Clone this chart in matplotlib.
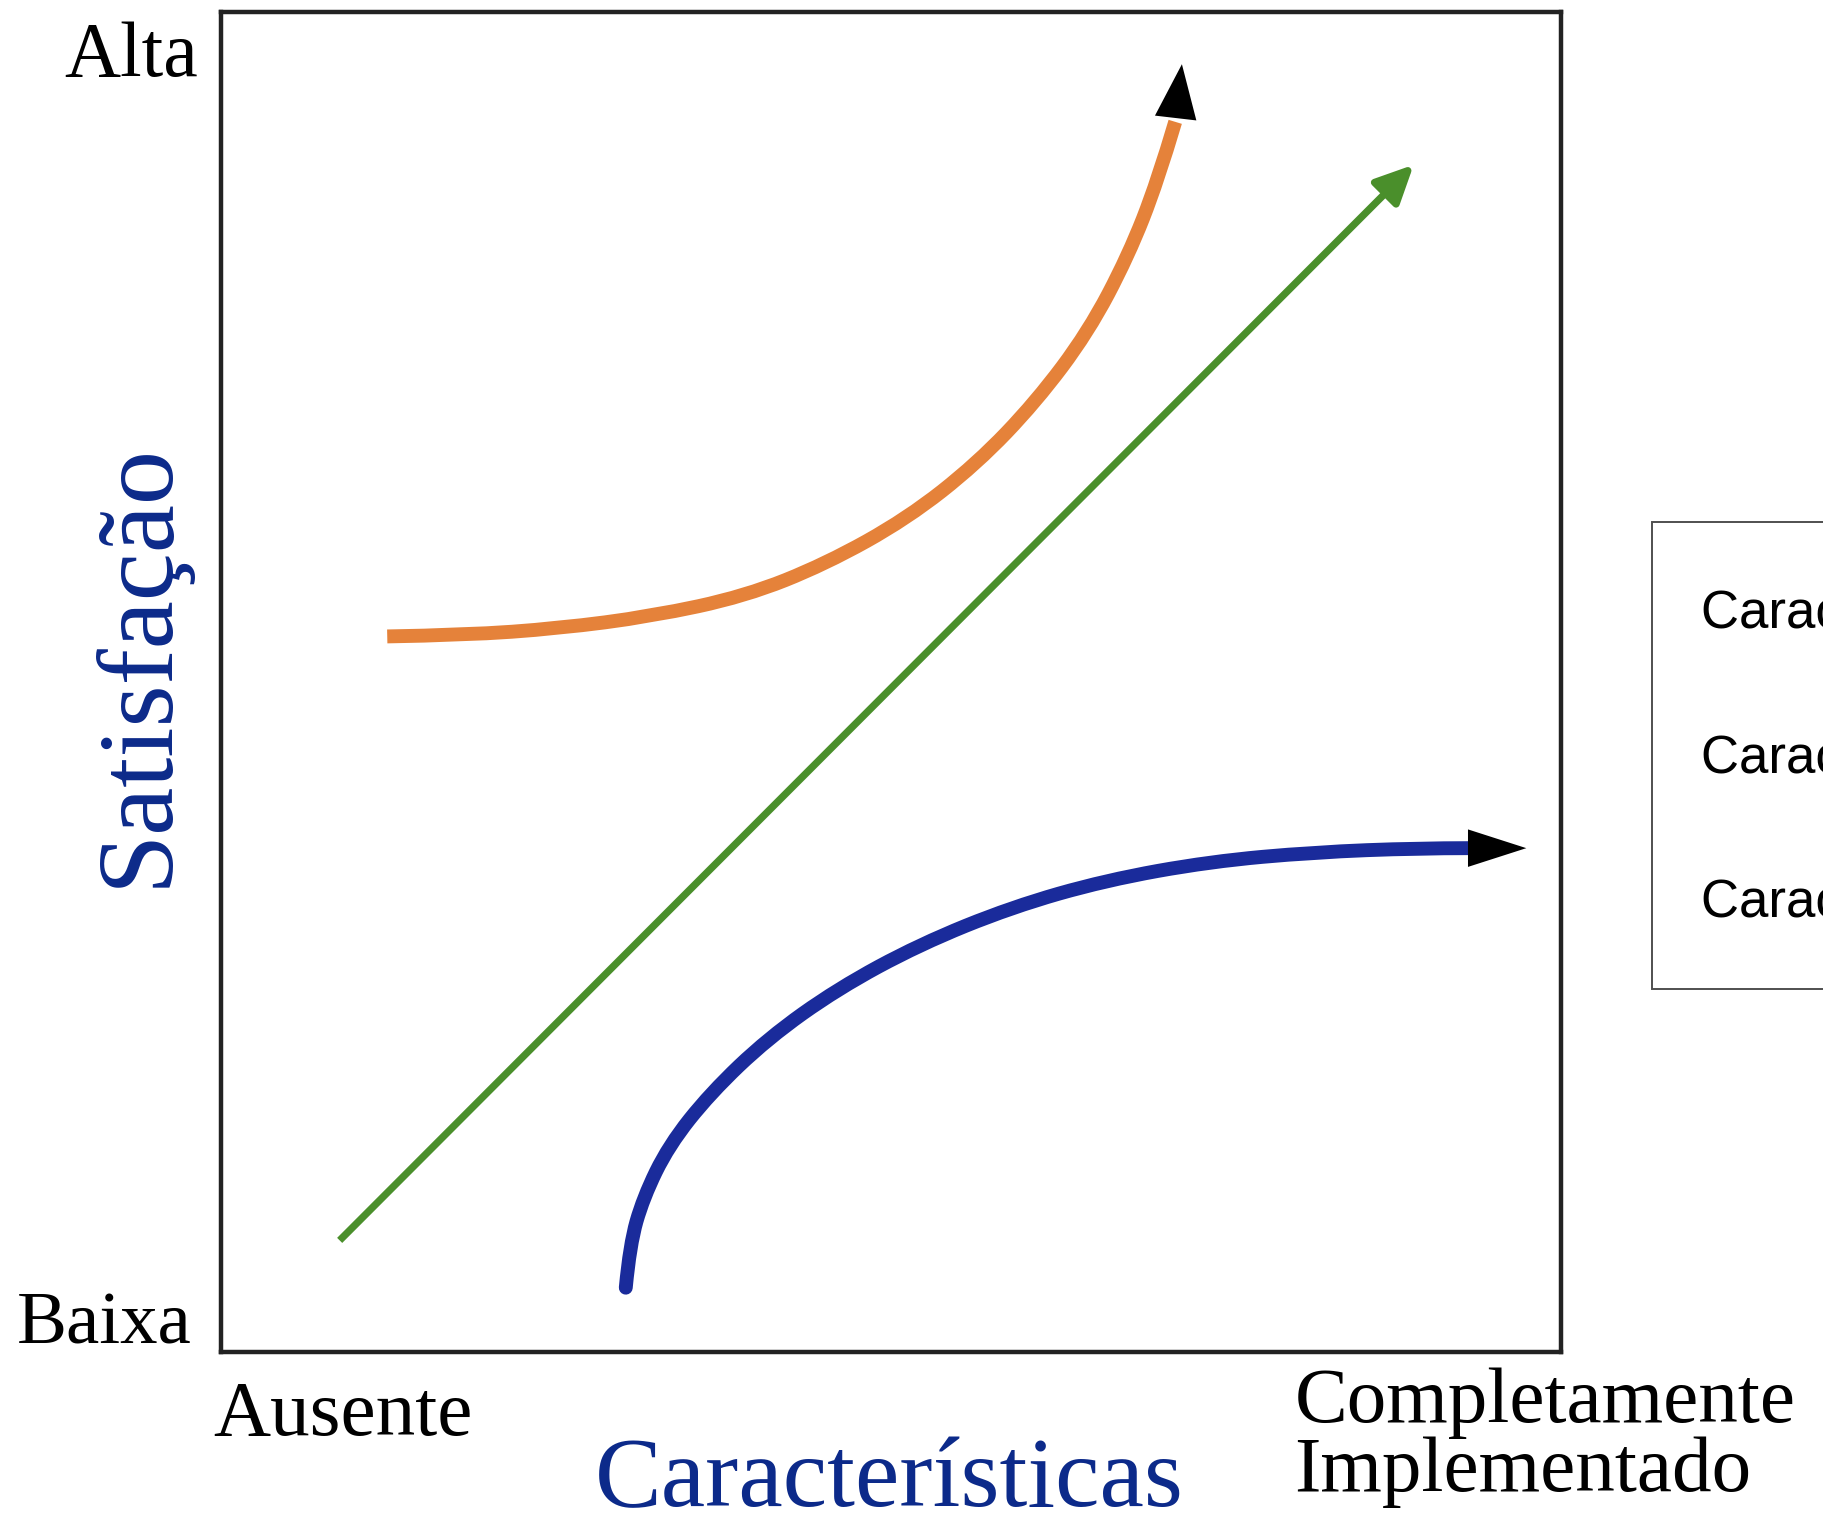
import matplotlib
matplotlib.use("Agg")
import matplotlib.pyplot as plt
from matplotlib.path import Path
from matplotlib.patches import PathPatch

# pontos (eixos normalizados 0..1)
exc_x = [0.124, 0.182, 0.252, 0.321, 0.391, 0.451, 0.512, 0.564, 0.608, 0.647, 0.677, 0.699, 0.712, 0.717]
exc_y = [0.534, 0.535, 0.540, 0.549, 0.564, 0.588, 0.622, 0.663, 0.709, 0.761, 0.818, 0.874, 0.918, 0.961]

des_x = [0.0885, 0.890]
des_y = [0.0833, 0.886]

bas_x = [0.302, 0.305, 0.315, 0.334, 0.365, 0.408, 0.460, 0.521, 0.590, 0.660, 0.738, 0.816, 0.894, 0.931, 0.974]
bas_y = [0.048, 0.080, 0.115, 0.154, 0.193, 0.234, 0.271, 0.304, 0.332, 0.352, 0.366, 0.373, 0.376, 0.376, 0.376]

legend_labels = ['Características de Excitação',
                 'Características de Desempenho',
                 'Características Básicas']

orange = '#e5823a'
green = '#4a8f2b'
blue = '#1a2b9b'
txt_blue = '#0c2a8a'
serif = 'Liberation Serif'


def smooth_curve(ax, xs, ys, **kw):
    """Desenha a curva suave (bezier quadrática) passando perto dos pontos."""
    verts = [(xs[0], ys[0])]
    codes = [Path.MOVETO]
    for i in range(1, len(xs) - 1):
        mx = (xs[i] + xs[i + 1]) / 2
        my = (ys[i] + ys[i + 1]) / 2
        if i == len(xs) - 2:
            mx, my = xs[i + 1], ys[i + 1]
        verts += [(xs[i], ys[i]), (mx, my)]
        codes += [Path.CURVE3, Path.CURVE3]
    patch = PathPatch(Path(verts, codes), fill=False, transform=ax.transData, **kw)
    ax.add_patch(patch)
    return patch


fig = plt.figure(figsize=(18.24, 15.13), dpi=100)
ax = fig.add_axes([0.1212, 0.1064, 0.7347, 0.8857])
ax.set_xlim(0, 1)
ax.set_ylim(0, 1)
ax.set_xticks([])
ax.set_yticks([])
for s in ax.spines.values():
    s.set_linewidth(3.2)
    s.set_color('#222222')

# curva de excitação (laranja) com seta preta
smooth_curve(ax, exc_x[:-1], exc_y[:-1], edgecolor=orange, lw=10, capstyle='butt',
             joinstyle='round')
ax.annotate('', xy=(exc_x[-1], exc_y[-1]), xytext=(exc_x[-2], exc_y[-2]),
            arrowprops=dict(arrowstyle='-|>,head_length=1.3,head_width=0.5',
                            mutation_scale=30, color='black', lw=0,
                            shrinkA=0, shrinkB=0))

# desempenho (verde)
ax.annotate('', xy=(des_x[1], des_y[1]), xytext=(des_x[0], des_y[0]),
            arrowprops=dict(arrowstyle='-|>,head_length=1.15,head_width=0.55',
                            mutation_scale=20, color=green, lw=5.2,
                            shrinkA=0, shrinkB=0, capstyle='butt'))

# básicas (azul) com seta preta
smooth_curve(ax, bas_x[:-1], bas_y[:-1], edgecolor=blue, lw=10, capstyle='round',
             joinstyle='round')
ax.annotate('', xy=(bas_x[-1], bas_y[-1]), xytext=(bas_x[-2], bas_y[-2]),
            arrowprops=dict(arrowstyle='-|>,head_length=1.4,head_width=0.45',
                            mutation_scale=30, color='black', lw=0,
                            shrinkA=0, shrinkB=0))

# proxies para a legenda
h1, = ax.plot([], [], color=orange, lw=10, label=legend_labels[0])
h2, = ax.plot([], [], color=green, lw=5, label=legend_labels[1])
h3, = ax.plot([], [], color=blue, lw=10, label=legend_labels[2])

# textos dos eixos
ax.text(-0.0174, 0.952, 'Alta', transform=ax.transAxes, ha='right', va='baseline',
        fontsize=56, family=serif)
ax.text(-0.0217, 0.006, 'Baixa', transform=ax.transAxes, ha='right', va='baseline',
        fontsize=54, family=serif)
ax.text(-0.006, -0.0616, 'Ausente', transform=ax.transAxes, ha='left', va='baseline',
        fontsize=57, family=serif)
ax.text(0.801, -0.052, 'Completamente', transform=ax.transAxes, ha='left', va='baseline',
        fontsize=57, family=serif)
ax.text(0.801, -0.104, 'Implementado', transform=ax.transAxes, ha='left', va='baseline',
        fontsize=57, family=serif)
ax.text(0.499, -0.115, 'Características', transform=ax.transAxes, ha='center',
        va='baseline', fontsize=72, family=serif, color=txt_blue)
ax.text(-0.061, 0.513, 'Satisfação', transform=ax.transAxes, ha='center', va='center',
        rotation=90, fontsize=78, family=serif, color=txt_blue)

leg = fig.legend(handles=[h1, h2, h3], loc='upper left', bbox_to_anchor=(0.9057, 0.655),
                 bbox_transform=fig.transFigure, frameon=True, fancybox=False,
                 handlelength=0, handletextpad=0, handleheight=1.95,
                 borderpad=0.93, labelspacing=1.23, borderaxespad=0,
                 prop={'family': 'Liberation Sans', 'size': 38})
for h in leg.legend_handles:
    h.set_visible(False)
leg.get_frame().set_edgecolor('#222222')
leg.get_frame().set_linewidth(1.4)

fig.savefig('out.png', dpi=100)
